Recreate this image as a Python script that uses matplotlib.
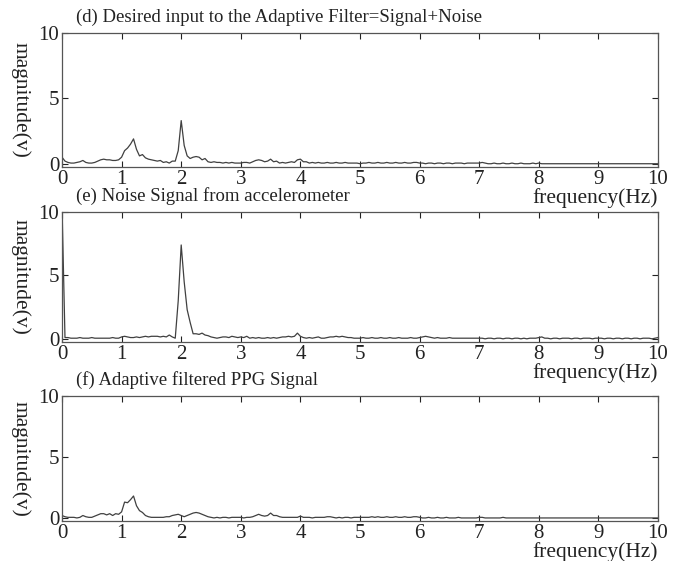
import matplotlib
matplotlib.use('Agg')
import matplotlib.pyplot as plt
import numpy as np

plt.rcParams['font.family'] = ['Liberation Serif', 'DejaVu Serif']

# frequency grid, 0.05 Hz steps
freq = np.linspace(0, 10, 201)

# (d) desired input = signal + noise
mag_d = ([0.5, 0.2, 0.1, 0.05, 0.05, 0.1, 0.15, 0.25, 0.1, 0.05, 0.05, 0.1, 0.2, 0.3, 0.35, 0.3, 0.3, 0.25, 0.25, 0.3]
         + [0.5, 1.0, 1.2, 1.5, 1.9, 1.1, 0.6, 0.7, 0.45, 0.35, 0.3, 0.25, 0.2, 0.25, 0.1, 0.15, 0.05, 0.2, 0.2, 1.0]
         + [3.3, 1.4, 0.6, 0.4, 0.5, 0.55, 0.5, 0.3, 0.4, 0.15, 0.1, 0.15, 0.1, 0.1, 0.05, 0.1, 0.05, 0.1, 0.05, 0.05]
         + [0.05, 0.1, 0.1, 0.05, 0.15, 0.25, 0.3, 0.25, 0.15, 0.2, 0.35, 0.15, 0.2, 0.05, 0.1, 0.05, 0.1, 0.15, 0.1, 0.3]
         + [0.35, 0.15, 0.15, 0.05, 0.1, 0.05, 0.1, 0.05, 0.05, 0.1, 0.05, 0.05, 0.1, 0.05, 0.05, 0.1, 0.05, 0.05, 0.05, 0.05]
         + [0.0, 0.05, 0.05, 0.1, 0.05, 0.05, 0.1, 0.05, 0.05, 0.1, 0.05, 0.05, 0.1, 0.05, 0.05, 0.1, 0.05, 0.05, 0.1, 0.1]
         + [0.05, 0.05, 0.0, 0.05, 0.05, 0.0, 0.05, 0.05, 0.0, 0.05, 0.05, 0.0, 0.05, 0.05, 0.05, 0.0, 0.05, 0.05, 0.05, 0.05]
         + [0.05, 0.1, 0.05, 0.0, 0.0, 0.05, 0.0, 0.0, 0.05, 0.0, 0.0, 0.05, 0.0, 0.0, 0.05, 0.0, 0.0, 0.0, 0.05, 0.0]
         + [0.05, 0.0, 0.0, 0.0, 0.0, 0.0, 0.0, 0.0, 0.0, 0.0, 0.0, 0.0, 0.0, 0.0, 0.0, 0.0, 0.0, 0.0, 0.0, 0.0]
         + [0.0, 0.0, 0.0, 0.0, 0.0, 0.0, 0.0, 0.0, 0.0, 0.0, 0.0, 0.0, 0.0, 0.0, 0.0, 0.0, 0.0, 0.0, 0.0, 0.0, 0.0])

# (e) accelerometer noise
mag_e = ([10.5, 0.1, 0.1, 0.05, 0.05, 0.05, 0.1, 0.05, 0.05, 0.05, 0.1, 0.05, 0.05, 0.05, 0.05, 0.05, 0.05, 0.1, 0.05, 0.05]
         + [0.15, 0.2, 0.15, 0.1, 0.1, 0.15, 0.1, 0.15, 0.2, 0.15, 0.2, 0.2, 0.2, 0.15, 0.2, 0.15, 0.3, 0.15, 0.05, 3.0]
         + [7.4, 4.5, 2.3, 1.3, 0.4, 0.4, 0.35, 0.45, 0.3, 0.25, 0.15, 0.1, 0.05, 0.1, 0.15, 0.15, 0.1, 0.2, 0.15, 0.1]
         + [0.15, 0.1, 0.2, 0.05, 0.1, 0.05, 0.1, 0.05, 0.05, 0.1, 0.05, 0.1, 0.05, 0.1, 0.15, 0.15, 0.2, 0.15, 0.2, 0.45]
         + [0.2, 0.1, 0.05, 0.1, 0.05, 0.1, 0.15, 0.05, 0.05, 0.1, 0.15, 0.15, 0.2, 0.15, 0.2, 0.15, 0.1, 0.1, 0.05, 0.05]
         + [0.05, 0.1, 0.05, 0.05, 0.1, 0.05, 0.05, 0.1, 0.05, 0.05, 0.1, 0.05, 0.05, 0.1, 0.05, 0.05, 0.05, 0.1, 0.05, 0.05]
         + [0.1, 0.15, 0.2, 0.15, 0.1, 0.05, 0.1, 0.05, 0.05, 0.05, 0.1, 0.05, 0.05, 0.05, 0.05, 0.05, 0.05, 0.05, 0.05, 0.05]
         + [0.05, 0.05, 0.0, 0.05, 0.05, 0.0, 0.05, 0.05, 0.0, 0.05, 0.05, 0.0, 0.05, 0.05, 0.0, 0.05, 0.0, 0.05, 0.05, 0.05]
         + [0.1, 0.15, 0.05, 0.05, 0.0, 0.05, 0.05, 0.0, 0.05, 0.05, 0.05, 0.0, 0.05, 0.05, 0.0, 0.05, 0.05, 0.05, 0.0, 0.05]
         + [0.05, 0.05, 0.0, 0.05, 0.05, 0.0, 0.05, 0.05, 0.0, 0.05, 0.05, 0.0, 0.05, 0.05, 0.0, 0.05, 0.05, 0.05, 0.0, 0.05, 0.1])

# (f) adaptive filtered PPG
mag_f = ([0.2, 0.1, 0.05, 0.05, 0.05, 0.0, 0.05, 0.2, 0.1, 0.05, 0.05, 0.15, 0.25, 0.35, 0.35, 0.25, 0.35, 0.2, 0.35, 0.3]
         + [0.5, 1.3, 1.25, 1.5, 1.8, 1.0, 0.6, 0.45, 0.2, 0.1, 0.05, 0.05, 0.05, 0.05, 0.05, 0.1, 0.1, 0.2, 0.25, 0.3]
         + [0.2, 0.1, 0.2, 0.3, 0.4, 0.45, 0.4, 0.3, 0.2, 0.1, 0.05, 0.0, 0.05, 0.0, 0.05, 0.05, 0.0, 0.05, 0.05, 0.05]
         + [0.05, 0.0, 0.05, 0.05, 0.1, 0.2, 0.3, 0.2, 0.15, 0.2, 0.4, 0.2, 0.2, 0.1, 0.05, 0.05, 0.05, 0.05, 0.05, 0.05]
         + [0.15, 0.05, 0.05, 0.05, 0.0, 0.05, 0.05, 0.05, 0.05, 0.1, 0.1, 0.05, 0.0, 0.05, 0.0, 0.05, 0.05, 0.0, 0.05, 0.05]
         + [0.05, 0.05, 0.05, 0.05, 0.1, 0.05, 0.1, 0.05, 0.05, 0.1, 0.05, 0.05, 0.1, 0.05, 0.05, 0.1, 0.05, 0.05, 0.1, 0.1]
         + [0.05, 0.0, 0.0, 0.05, 0.0, 0.0, 0.05, 0.0, 0.0, 0.05, 0.0, 0.0, 0.0, 0.05, 0.0, 0.0, 0.0, 0.0, 0.0, 0.0]
         + [0.05, 0.05, 0.0, 0.0, 0.0, 0.0, 0.0, 0.0, 0.05, 0.0, 0.0, 0.0, 0.0, 0.0, 0.0, 0.0, 0.0, 0.0, 0.0, 0.0]
         + [0.0, 0.0, 0.0, 0.0, 0.0, 0.0, 0.0, 0.0, 0.0, 0.0, 0.0, 0.0, 0.0, 0.0, 0.0, 0.0, 0.0, 0.0, 0.0, 0.0]
         + [0.0, 0.0, 0.0, 0.0, 0.0, 0.0, 0.0, 0.0, 0.0, 0.0, 0.0, 0.0, 0.0, 0.0, 0.0, 0.0, 0.0, 0.0, 0.0, 0.0, 0.0])

titles = ['(d) Desired input to the Adaptive Filter=Signal+Noise',
          '(e) Noise Signal from accelerometer',
          '(f) Adaptive filtered PPG Signal']
series = [mag_d, mag_e, mag_f]

W, H = 690, 561
fig = plt.figure(figsize=(W / 100, H / 100), dpi=100)

# axes boxes in pixels: (top, bottom)
boxes = [(33, 167), (212, 342), (396, 521)]
left, right = 62, 658

for (top, bot), title, mag in zip(boxes, titles, series):
    ax = fig.add_axes([left / W, 1 - bot / H, (right - left) / W, (bot - top) / H])
    ax.plot(freq, mag, color='#404040', lw=0.9)
    ax.set_xlim(0, 10)
    ax.set_ylim(-0.25, 10)
    ax.set_xticks(range(0, 11))
    ax.set_yticks([0, 5, 10])
    ax.tick_params(direction='in', top=True, right=True, length=4, width=0.8,
                   labelsize=15, pad=2, colors='#222222')
    for s in ax.spines.values():
        s.set_color('#555555')
        s.set_linewidth(0.9)
    ax.set_ylabel('magnitude(v)', rotation=-90, fontsize=15.5, labelpad=20, color='#222222')
    fig.text(76 / W, 1 - (top - 16) / H, title, fontsize=13.5, ha='left', va='center', color='#222222')
    fig.text(right / W, 1 - (bot + 31) / H, 'frequency(Hz)', fontsize=15.5, ha='right', va='center', color='#222222')

fig.savefig('out.png', dpi=100, facecolor='white')
